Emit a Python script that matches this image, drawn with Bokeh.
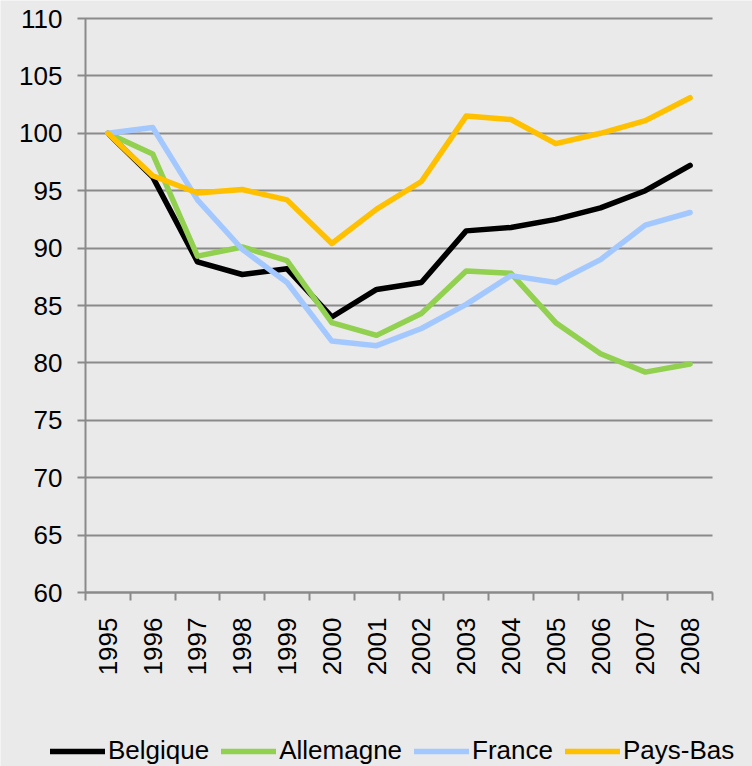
import math
import numpy as np
from bokeh.plotting import figure
from bokeh.models import Range1d, FixedTicker, Legend, LegendItem
from bokeh.embed import file_html
from bokeh.resources import INLINE

years = ["1995", "1996", "1997", "1998", "1999", "2000", "2001",
         "2002", "2003", "2004", "2005", "2006", "2007", "2008"]
belgique = [100, 96.2, 88.8, 87.7, 88.2, 84.0, 86.4, 87.0, 91.5, 91.8, 92.5, 93.5, 95.0, 97.2]
allemagne = [100, 98.2, 89.3, 90.1, 88.9, 83.5, 82.4, 84.3, 88.0, 87.8, 83.5, 80.8, 79.2, 79.9]
france = [100, 100.5, 94.2, 89.9, 87.0, 81.9, 81.5, 83.0, 85.1, 87.6, 87.0, 89.0, 92.0, 93.1]
paysbas = [100, 96.3, 94.8, 95.1, 94.2, 90.4, 93.4, 95.8, 101.5, 101.2, 99.1, 100.0, 101.1, 103.1]
y_ticks = [60, 65, 70, 75, 80, 85, 90, 95, 100, 105, 110]

series = [("Belgique", belgique, "#000000"),
          ("Allemagne", allemagne, "#92D050"),
          ("France", france, "#A3C8FF"),
          ("Pays-Bas", paysbas, "#FFC000")]

BG = "#EAEAEA"
GRID = "#8A8A8A"
FONT = "Liberation Sans"
LW = 5.5

# layout (pixels): plot area inside the 752x766 canvas
W, H = 752, 766
LEFT, RIGHT, TOP, BOTTOM = 85, 712, 18, 592
Y0, Y1 = 60, 110

n = len(years)
x = np.arange(n) + 0.5

sx = (RIGHT - LEFT) / n
sy = (BOTTOM - TOP) / (Y1 - Y0)
x_range = Range1d(-LEFT / sx, n + (W - RIGHT) / sx)
y_range = Range1d(Y0 - (H - BOTTOM) / sy, Y1 + TOP / sy)

p = figure(width=W, height=H, output_backend="svg", toolbar_location=None,
           x_range=x_range, y_range=y_range, min_border=0)
p.background_fill_color = BG
p.border_fill_color = BG
p.outline_line_color = None
p.xgrid.visible = False
p.ygrid.visible = False

items = []
for name, vals, col in series:
    r = p.line(x, vals, line_color=col, line_width=LW, line_cap="round", line_join="round")
    items.append(LegendItem(label=name, renderers=[r]))

# x axis (fixed at y = 60)
xa = p.xaxis[0]
xa.fixed_location = Y0
xa.bounds = (0, n)
xa.level = "underlay"
xa.ticker = FixedTicker(ticks=list(x), minor_ticks=list(range(n + 1)))
xa.major_label_overrides = {float(v): lab for v, lab in zip(x, years)}
xa.major_label_orientation = math.pi / 2
xa.major_tick_out = 0
xa.major_tick_in = 0
xa.minor_tick_out = 8
xa.minor_tick_in = 0
xa.minor_tick_line_color = GRID
xa.minor_tick_line_width = 2
xa.axis_line_color = GRID
xa.axis_line_width = 2
xa.major_label_standoff = 17
xa.major_label_text_font = FONT
xa.major_label_text_font_size = "26px"
xa.major_label_text_color = "#000000"

# y axis (fixed at the left edge of the plot area); long inward ticks act as gridlines
ya = p.yaxis[0]
ya.fixed_location = 0
ya.bounds = (Y0, Y1)
ya.level = "underlay"
ya.ticker = FixedTicker(ticks=y_ticks, minor_ticks=[])
ya.major_tick_out = 8
ya.major_tick_in = RIGHT - LEFT
ya.major_tick_line_color = GRID
ya.major_tick_line_width = 2
ya.minor_tick_out = 0
ya.minor_tick_in = 0
ya.axis_line_color = GRID
ya.axis_line_width = 2
ya.major_label_standoff = 15
ya.major_label_text_font = FONT
ya.major_label_text_font_size = "26px"
ya.major_label_text_color = "#000000"

legend = Legend(items=items, orientation="horizontal", location=(50, 0),
                glyph_width=55, glyph_height=20, label_standoff=3, spacing=12,
                padding=0, margin=0, label_text_font=FONT,
                label_text_font_size="26px", label_text_color="#000000",
                background_fill_alpha=0, border_line_alpha=0)
p.add_layout(legend)

open("out.html", "w").write(file_html(p, INLINE))
